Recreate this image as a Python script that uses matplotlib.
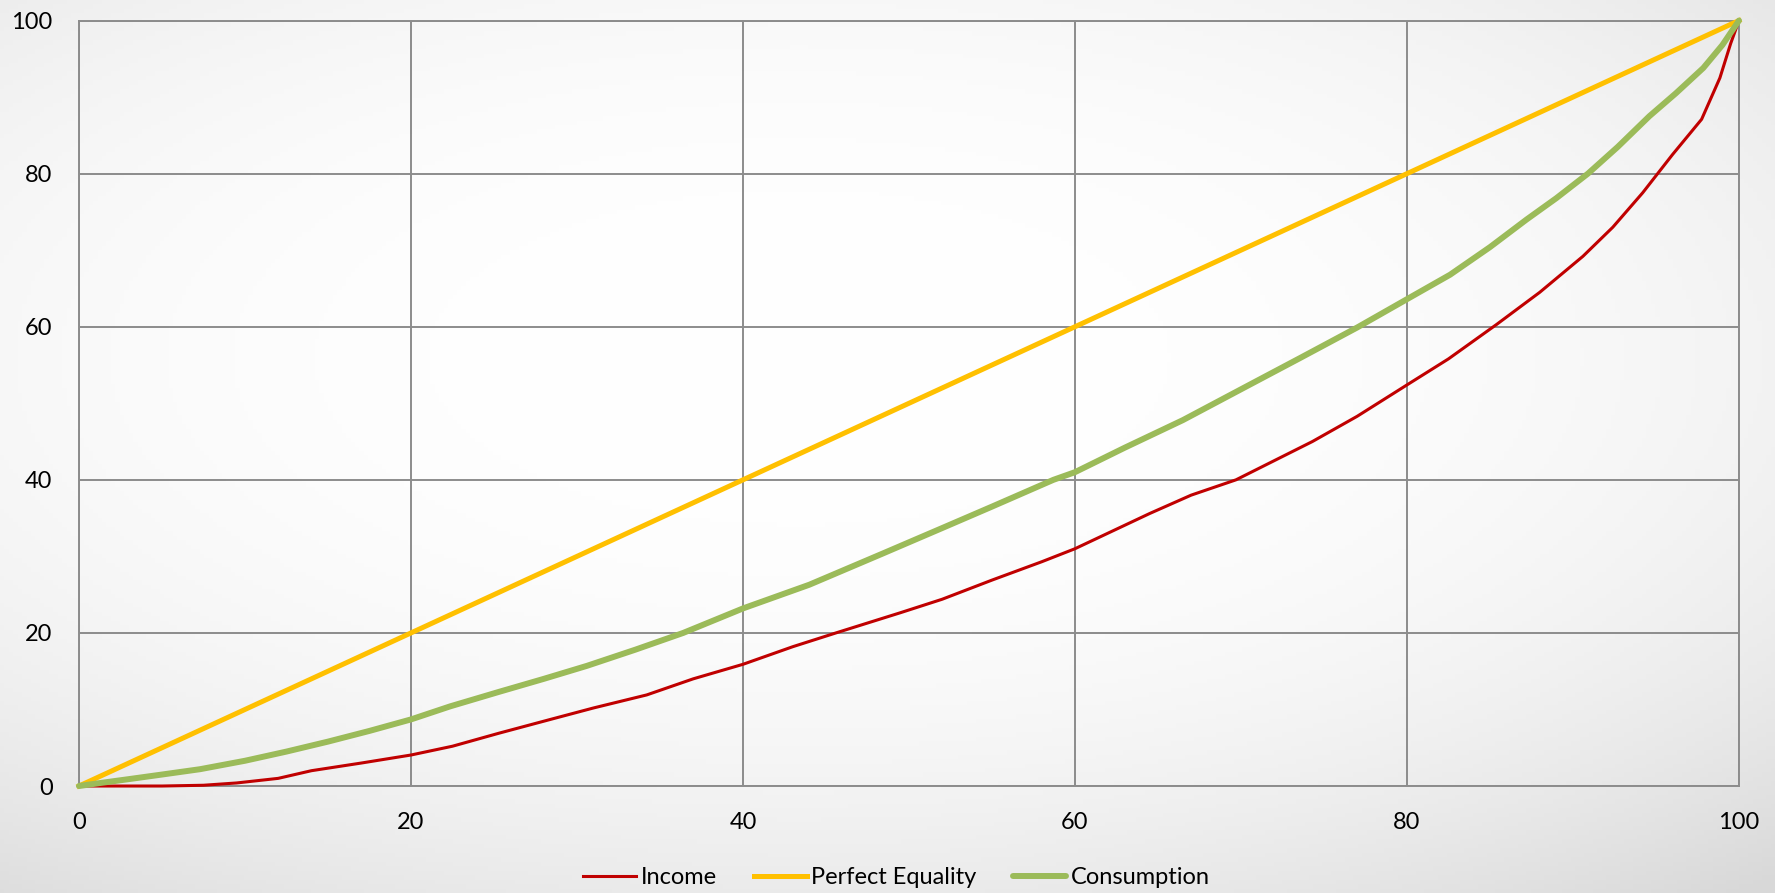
import numpy as np
import matplotlib.pyplot as plt

plt.rcParams['font.family'] = ['Lato', 'DejaVu Sans']

# Lorenz curve data (cumulative % of population vs cumulative % share)
income_x = [0, 2, 5, 7.5, 9.5, 12, 14, 17, 20, 22.5, 25.3, 28.4, 31, 34.2, 37, 40,
            43, 45.6, 49.5, 52, 55, 58, 60, 64.5, 67, 69.7, 72, 74.3, 77, 80, 82.5,
            85.4, 88, 90.6, 92.4, 94.2, 96, 97.75, 98.85, 99.5, 100]
income_y = [0, 0, 0, 0.1, 0.4, 1.0, 2.0, 3.0, 4.05, 5.2, 6.9, 8.7, 10.2, 11.9, 14.0, 15.9,
            18.2, 20, 22.65, 24.4, 26.9, 29.3, 31, 35.6, 38, 40, 42.5, 45, 48.3, 52.4, 55.8,
            60.3, 64.5, 69.2, 73, 77.5, 82.5, 87.1, 92.5, 97, 100]

equality_x = [0, 100]
equality_y = [0, 100]

consumption_x = [0, 1.3, 3, 5, 7.3, 10, 12.5, 15, 17.5, 20, 22.35, 25.3, 28, 30.6, 33.5,
                 36.4, 40, 44, 48.45, 52, 55, 58.7, 60, 63, 66.5, 70.5, 73.55, 77, 80,
                 82.6, 85, 87.2, 89, 90.9, 92.7, 94.6, 96.2, 97.85, 99, 100]
consumption_y = [0, 0.4, 0.9, 1.5, 2.2, 3.3, 4.5, 5.8, 7.2, 8.7, 10.4, 12.3, 14, 15.7, 17.8,
                 20, 23.2, 26.3, 30.4, 33.7, 36.5, 40, 41, 44.2, 47.8, 52.4, 55.9, 59.9, 63.6,
                 66.8, 70.4, 74.0, 76.8, 80, 83.5, 87.5, 90.5, 93.8, 96.8, 100]

ticks = [0, 20, 40, 60, 80, 100]

fig = plt.figure(figsize=(17.75, 8.93), dpi=100)

# soft radial gradient background, white in the middle, grey towards the corners
bg = fig.add_axes([0, 0, 1, 1], zorder=-1)
gx, gy = np.meshgrid(np.linspace(0, 1, 400), np.linspace(0, 1, 200))
r = np.sqrt(((gx - 0.45) / 1.0) ** 2 + ((gy - 0.6) / 0.9) ** 2)
shade = 1.0 - 0.15 * np.clip(r / 0.85, 0, 1) ** 2.6
bg.imshow(np.dstack([shade] * 3), extent=[0, 1, 0, 1], aspect='auto', origin='lower')
bg.axis('off')

ax = fig.add_axes([0.0445, 0.1198, 0.9352, 0.8572])
ax.set_facecolor('none')

ax.plot(income_x, income_y, color='#C00000', lw=2.2, label='Income', clip_on=False, zorder=3)
ax.plot(equality_x, equality_y, color='#FFC000', lw=3.6, label='Perfect Equality',
        clip_on=False, zorder=3)
ax.plot(consumption_x, consumption_y, color='#9BBB59', lw=4.3, label='Consumption',
        clip_on=False, zorder=4, solid_capstyle='round')

ax.set_xlim(0, 100)
ax.set_ylim(0, 100)
ax.set_xticks(ticks)
ax.set_yticks(ticks)
ax.grid(True, color='#8c8c8c', lw=1.4)
ax.set_axisbelow(True)
for s in ax.spines.values():
    s.set_color('#8c8c8c')
    s.set_linewidth(1.4)
ax.tick_params(length=0, labelsize=17, colors='black', pad=19)

ax.legend(loc='upper center', bbox_to_anchor=(0.4925, -0.078), ncol=3, frameon=False,
          fontsize=17, handlelength=2.25, handletextpad=0.2, columnspacing=1.55)

fig.savefig('out.png', dpi=100)
